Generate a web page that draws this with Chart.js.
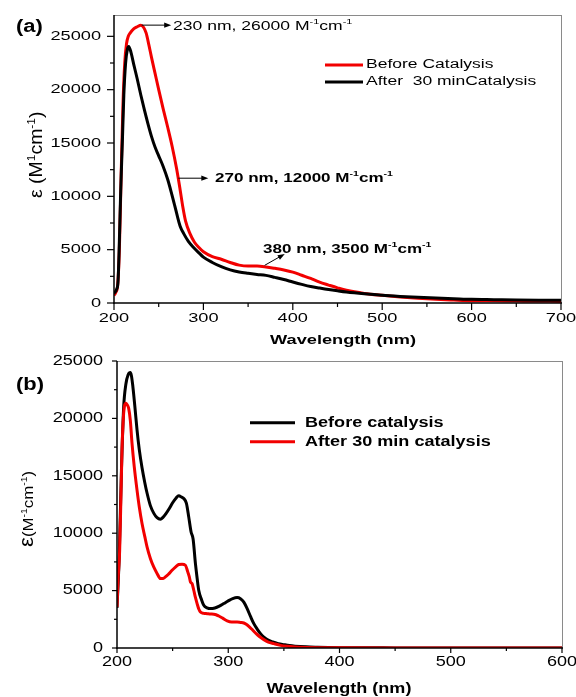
<!DOCTYPE html>
<html>
<head>
<meta charset="utf-8">
<script src="https://cdn.jsdelivr.net/npm/chart.js@4.4.1/dist/chart.umd.min.js"></script>
<style>
  html, body { margin: 0; padding: 0; background: #fff; }
  #wrap { position: relative; width: 576px; height: 697px; }
  .panel { position: absolute; left: 0; width: 576px; }
  #panelA { top: 0; height: 350px; }
  #panelB { top: 350px; height: 347px; }
</style>
</head>
<body>
<div id="wrap">
  <div class="panel" id="panelA"><canvas id="chartA"></canvas></div>
  <div class="panel" id="panelB"><canvas id="chartB"></canvas></div>
</div>
<script>
/* UV-vis spectra, before / after catalysis — two stacked panels */

// ── DATA: PANEL (a) ───────────────────────────────────────────────────────────
const aRedNm  = [200,202,204,206,208,210,212,214,216,218, 222,226,230,233,236,239,242,246,250,255,
                 260,265,270,274,277,280,285,290,295,300, 310,320,330,340,350,360,370,380,390,400,
                 410,420,430,440,450,460,480,500,520,540, 560,580,600,625,650,675,700];
const aRedEps = [700,1000,1600,5000,12000,18500,22500,24300,25000,25300, 25700,25900,26050,25850,25300,24200,23000,21500,20000,18200,
                 16500,14700,12600,10600,9000,7700,6500,5700,5200,4800, 4350,4100,3800,3550,3460,3460,3380,3250,3100,2900,
                 2600,2300,1950,1680,1420,1190,900,720,570,450, 350,280,220,200,180,160,150];

const aBlkNm  = [200,203,204.5,206,207.5,209.5,211,213,215,216.5, 219,222,226,230,234,238,242,246,250,255,
                 260,264,268,271,274,278,283,289,295,300, 310,320,330,340,350,360,370,380,390,400,
                 410,420,430,440,450,460,480,500,520,540, 560,580,600,625,650,675,700];
const aBlkEps = [900,1300,2000,5800,10500,15500,19500,22500,23800,24050, 23500,22400,21000,19500,18100,16800,15600,14600,13800,12800,
                 11600,10400,9100,8100,7200,6500,5800,5200,4700,4300, 3800,3400,3100,2900,2780,2680,2590,2400,2200,1970,
                 1750,1550,1400,1260,1140,1030,860,720,620,540, 460,400,340,310,280,260,250];

const aXTicks  = [200, 300, 400, 500, 600, 700];
const aYTicks  = [0, 5000, 10000, 15000, 20000, 25000];
const aLabels  = ['Before Catalysis', 'After  30 minCatalysis'];

// ── DATA: PANEL (b) ───────────────────────────────────────────────────────────
const bBlkNm  = [200,202,204,206,208,210,212,213,214,215, 216,218,220,222.5,225,227,230,233,236,239,
                 241.5,244,247,250,253,255.5,258,260,262.4,264.5, 266.6,268.4,270.5,272,273.5,276,278,281,284,288,
                 292,296,300,304,308,311,314,317,320,323, 326,329,332,335,340,345,350,355,360,370,
                 380,400,450,500,600];
const bBlkEps = [3500,8000,15500,21000,23000,23800,24000,23700,23000,22100, 21100,19000,17300,15700,14400,13500,12400,11750,11350,11220,
                 11400,11700,12150,12650,13050,13260,13150,13020,12600,11400, 10100,9500,7350,6100,5000,4200,3720,3500,3430,3490,
                 3650,3870,4100,4300,4390,4300,4000,3430,2750,2120, 1650,1250,950,730,520,380,290,210,160,100,
                 70,30,10,5,0];

const bRedNm  = [200,201,202.4,203.5,204.5,205.5,206.6,208,209,210.5, 212,213.5,215.5,218,220,222.5,225,227,230,233,
                 236,239,241.5,243.5,246,249.5,252.5,255.5,258.5,261.5, 263.6,265,266,267.5,269,270.5,272,273.5,275,278,
                 281,284,287,289,291.5,295,299,303,308,311, 314,316.5,318.5,321,324.5,328,332,336,341,347,
                 353,360,370,380,400,450,500,600];
const bRedEps = [3580,6000,8520,13000,17240,19700,21020,21310,21200,20870, 19800,17820,15800,13750,12300,10840,9700,8810,7800,7060,
                 6500,6050,6050,6190,6400,6770,7050,7270,7300,7210, 6630,6200,5760,5600,5030,4400,3870,3400,3140,3020,
                 2990,2960,2940,2900,2790,2600,2370,2270,2270,2230, 2180,2050,1890,1650,1310,1000,730,520,380,230,
                 145,90,50,30,15,5,3,0];

const bXTicks  = [200, 300, 400, 500, 600];
const bYTicks  = [0, 5000, 10000, 15000, 20000, 25000];
const bLabels  = ['Before catalysis', 'After 30 min catalysis'];

// ── HELPERS ───────────────────────────────────────────────────────────────────
const FONT = "'Liberation Sans', Arial, sans-serif";
const RED  = '#f20000';
const SUP  = t => ({ t, sup: true });

function pts(xs, ys) { return xs.map((x, i) => ({ x, y: ys[i] })); }

function midTicks(ticks) {
  const out = [];
  for (let i = 0; i < ticks.length - 1; i++) out.push((ticks[i] + ticks[i + 1]) / 2);
  return out;
}

// Text made of plain + superscript parts; sx stretches along the text direction
function drawRich(ctx, parts, x, y, o) {
  const size = o.size, weight = o.bold ? 'bold ' : '';
  ctx.save();
  ctx.translate(x, y);
  if (o.rot) ctx.rotate(o.rot);
  ctx.scale(o.sx || 1, o.sy || 1);
  ctx.fillStyle    = '#000';
  ctx.textBaseline = o.baseline || 'middle';
  ctx.textAlign    = 'left';
  const segs = parts.map(p => {
    const s  = typeof p === 'string' ? { t: p } : p;
    const fs = s.size || (s.sup ? size * 0.62 : size);
    const font = weight + fs + 'px ' + FONT;
    ctx.font = font;
    return { t: s.t, font, w: ctx.measureText(s.t).width, dy: s.sup ? -size * 0.4 : 0 };
  });
  const total = segs.reduce((a, s) => a + s.w, 0);
  let cx = o.align === 'right' ? -total : o.align === 'center' ? -total / 2 : 0;
  segs.forEach(s => { ctx.font = s.font; ctx.fillText(s.t, cx, s.dy); cx += s.w; });
  ctx.restore();
}

function drawArrow(ctx, x1, y1, x2, y2) {
  const a = Math.atan2(y2 - y1, x2 - x1), h = 7, w = 2.6;
  const c = Math.cos(a), s = Math.sin(a);
  ctx.save();
  ctx.strokeStyle = '#000';
  ctx.fillStyle   = '#000';
  ctx.lineWidth   = 1;
  ctx.beginPath();
  ctx.moveTo(x1, y1);
  ctx.lineTo(x2 - h * 0.7 * c, y2 - h * 0.7 * s);
  ctx.stroke();
  ctx.beginPath();
  ctx.moveTo(x2, y2);
  ctx.lineTo(x2 - h * c + w * s, y2 - h * s - w * c);
  ctx.lineTo(x2 - h * c - w * s, y2 - h * s + w * c);
  ctx.closePath();
  ctx.fill();
  ctx.restore();
}

function line(ctx, x1, y1, x2, y2) {
  ctx.beginPath(); ctx.moveTo(x1, y1); ctx.lineTo(x2, y2); ctx.stroke();
}

// Axes, ticks, labels, legend and notes, all placed through the chart scales
function decoPlugin(d) {
  return {
    id: 'deco',
    afterDraw(chart) {
      const ctx = chart.ctx, xs = chart.scales.x, ys = chart.scales.y, ca = chart.chartArea;
      ctx.save();

      // frame (top + right)
      ctx.strokeStyle = '#8a8a8a';
      ctx.lineWidth   = 1;
      line(ctx, ca.left, ca.top + 0.5, ca.right + 0.5, ca.top + 0.5);
      line(ctx, ca.right + 0.5, ca.top, ca.right + 0.5, ca.bottom);

      // axis lines
      ctx.strokeStyle = '#000';
      ctx.lineWidth   = 1.5;
      line(ctx, ca.left, ca.top, ca.left, ca.bottom + 0.75);
      line(ctx, ca.left - 0.75, ca.bottom, ca.right + 1, ca.bottom);

      // ticks
      ctx.lineWidth = 1.2;
      d.xTicks.forEach(v => { const p = xs.getPixelForValue(v); line(ctx, p, ca.bottom, p, ca.bottom + d.major); });
      midTicks(d.xTicks).forEach(v => { const p = xs.getPixelForValue(v); line(ctx, p, ca.bottom, p, ca.bottom + d.minor); });
      d.yTicks.forEach(v => { const p = ys.getPixelForValue(v); line(ctx, ca.left - d.major, p, ca.left, p); });
      midTicks(d.yTicks).forEach(v => { const p = ys.getPixelForValue(v); line(ctx, ca.left - d.minor, p, ca.left, p); });

      // tick labels
      d.xTicks.forEach(v => drawRich(ctx, [String(v)], xs.getPixelForValue(v), d.xLabelY,
        { size: d.tickSize, sx: d.sx, align: 'center' }));
      d.yTicks.forEach(v => drawRich(ctx, [String(v)], d.yLabelX, ys.getPixelForValue(v),
        { size: d.tickSize, sx: d.sx, align: 'right' }));

      // axis titles
      drawRich(ctx, ['Wavelength (nm)'], d.xTitle[0], d.xTitle[1],
        { size: d.titleSize, bold: true, sx: d.sx, align: 'center' });
      drawRich(ctx, d.yTitleParts, d.yTitle[0], d.yTitle[1],
        { size: d.yTitleSize, rot: -Math.PI / 2, baseline: 'alphabetic', sx: d.yTitleStretch });

      // panel letter
      drawRich(ctx, [d.letter], 16, d.letterY, { size: 18, bold: true, sx: 1.22 });

      // legend
      const lg = d.legend;
      lg.order.forEach((di, row) => {
        const ds = chart.data.datasets[di], y = lg.ys[row];
        ctx.strokeStyle = ds.borderColor;
        ctx.lineWidth   = 3;
        line(ctx, lg.x1, y, lg.x2, y);
        drawRich(ctx, [ds.label], lg.tx, y, { size: lg.size, bold: lg.bold, sx: d.sx });
      });

      // peak notes
      (d.notes || []).forEach(n => {
        drawArrow(ctx, xs.getPixelForValue(n.from[0]), ys.getPixelForValue(n.from[1]),
                       xs.getPixelForValue(n.to[0]),   ys.getPixelForValue(n.to[1]));
        drawRich(ctx, n.parts, xs.getPixelForValue(n.at[0]), ys.getPixelForValue(n.at[1]),
          { size: n.size, bold: n.bold, sx: n.sx });
      });

      ctx.restore();
    }
  };
}

function makeChart(canvas, cfg) {
  return new Chart(canvas, {
    type: 'line',
    data: { datasets: cfg.datasets },
    options: {
      responsive: true,
      maintainAspectRatio: false,
      animation: false,
      parsing: false,
      layout: { padding: cfg.padding },
      elements: { point: { radius: 0 }, line: { borderWidth: 3, cubicInterpolationMode: 'monotone' } },
      plugins: { legend: { display: false }, tooltip: { enabled: false } },
      scales: {
        x: { type: 'linear', display: false, min: cfg.xMin, max: cfg.xMax },
        y: { type: 'linear', display: false, min: 0, max: cfg.yMax }
      }
    },
    plugins: [decoPlugin(cfg.deco)]
  });
}

// ── PANEL (a) ─────────────────────────────────────────────────────────────────
function initPanelA() {
  makeChart(document.getElementById('chartA'), {
    xMin: 200, xMax: 700, yMax: 27000,
    padding: { left: 114, right: 15, top: 15, bottom: 47 },
    datasets: [
      { label: aLabels[0], data: pts(aRedNm, aRedEps), borderColor: RED,    order: 1, fill: false },
      { label: aLabels[1], data: pts(aBlkNm, aBlkEps), borderColor: '#000', order: 0, fill: false }
    ],
    deco: {
      xTicks: aXTicks, yTicks: aYTicks, major: 7, minor: 4,
      tickSize: 13, titleSize: 13, sx: 1.4,
      xLabelY: 318, yLabelX: 101,
      xTitle: [343, 340],
      yTitleParts: ['\u03b5 (M', SUP('1'), 'cm', SUP('-1'), ')'],
      yTitle: [42, 198], yTitleSize: 18, yTitleStretch: 1.08,
      letter: '(a)', letterY: 27,
      legend: { order: [0, 1], x1: 325, x2: 363, tx: 366, ys: [65, 82], size: 12.5, bold: false },
      notes: [
        { from: [231, 26050], to: [264, 26050], at: [266, 25900], size: 13, bold: false, sx: 1.35,
          parts: ['230 nm, 26000 M', SUP('-1'), 'cm', SUP('-1')] },
        { from: [272, 11700], to: [305.5, 11700], at: [313, 11660], size: 12, bold: true, sx: 1.42,
          parts: ['270 nm, 12000 M', SUP('-1'), 'cm', SUP('-1')] },
        { from: [368.5, 3530], to: [391, 4600], at: [366.7, 5000], size: 12, bold: true, sx: 1.42,
          parts: ['380 nm, 3500 M', SUP('-1'), 'cm', SUP('-1')] }
      ]
    }
  });
}

// ── PANEL (b) ─────────────────────────────────────────────────────────────────
function initPanelB() {
  makeChart(document.getElementById('chartB'), {
    xMin: 200, xMax: 600, yMax: 25000,
    padding: { left: 117, right: 14, top: 11, bottom: 49 },
    datasets: [
      { label: bLabels[0], data: pts(bBlkNm, bBlkEps), borderColor: '#000', order: 1, fill: false },
      { label: bLabels[1], data: pts(bRedNm, bRedEps), borderColor: RED,    order: 0, fill: false }
    ],
    deco: {
      xTicks: bXTicks, yTicks: bYTicks, major: 5, minor: 3,
      tickSize: 14, titleSize: 14, sx: 1.29,
      xLabelY: 312, yLabelX: 103,
      xTitle: [339, 339],
      yTitleParts: [{ t: '\u03b5', size: 20 }, '(M', SUP('-1'), 'cm', SUP('-1'), ')'],
      yTitle: [33, 197], yTitleSize: 15, yTitleStretch: 1.12,
      letter: '(b)', letterY: 35,
      legend: { order: [0, 1], x1: 250, x2: 295, tx: 305, ys: [72.7, 91.7], size: 14, bold: true }
    }
  });
}

// ── INIT ──────────────────────────────────────────────────────────────────────
initPanelA();
initPanelB();
</script>
</body>
</html>
